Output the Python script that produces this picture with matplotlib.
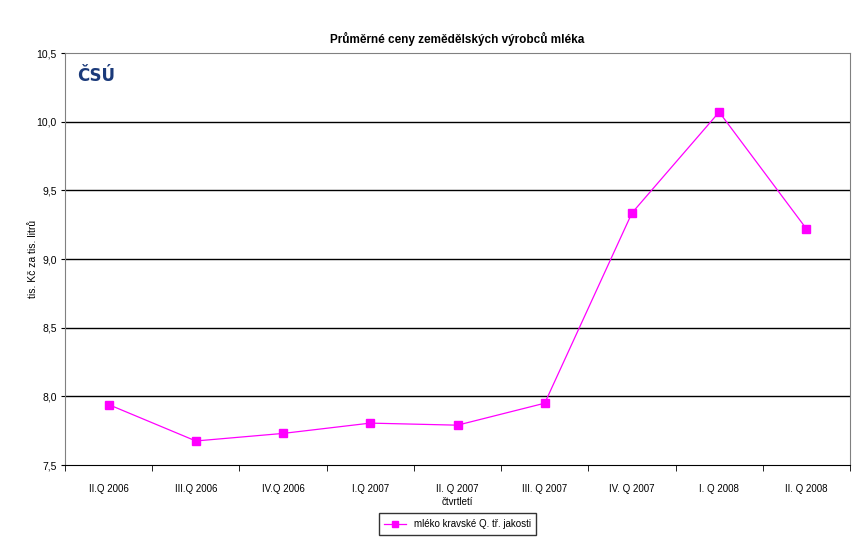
import numpy as np
from matplotlib import pyplot as plt
from matplotlib.ticker import FixedLocator, FuncFormatter

plt.rcParams['font.family'] = ['Liberation Sans', 'DejaVu Sans']

quarters = ['II.Q 2006', 'III.Q 2006', 'IV.Q 2006', 'I.Q 2007', 'II. Q 2007',
            'III. Q 2007', 'IV. Q 2007', 'I. Q 2008', 'II. Q 2008']
prices = [7.94, 7.675, 7.73, 7.805, 7.79, 7.95, 9.335, 10.07, 9.22]
series_name = 'mléko kravské Q. tř. jakosti'

fig = plt.figure(figsize=(8.6, 5.5), dpi=100)
ax = fig.add_axes([65/860, 1 - 465/550, 785/860, 412/550])

x = np.arange(len(quarters))
ax.plot(x, prices, color='#ff00ff', lw=0.9, marker='s', ms=6,
        markeredgecolor='#ff00ff', label=series_name, zorder=3)

ax.set_xlim(-0.5, len(quarters) - 0.5)
ax.set_ylim(7.5, 10.5)
ax.set_yticks(np.arange(7.5, 10.51, 0.5))
ax.yaxis.set_major_formatter(FuncFormatter(lambda v, p: f'{v:.1f}'.replace('.', ',')))
for v in np.arange(8.0, 10.01, 0.5):
    ax.axhline(v, color='black', lw=1, zorder=1)

ax.set_xticks(x)
ax.set_xticklabels(quarters)
ax.xaxis.set_minor_locator(FixedLocator(np.arange(-0.5, len(quarters), 1)))
ax.tick_params(axis='x', which='major', length=0, pad=14, labelsize=7)
ax.tick_params(axis='x', which='minor', length=4, direction='out', color='black')
ax.tick_params(axis='y', length=3, direction='out', labelsize=7.5, color='black', pad=3)

for side in ['left', 'right', 'top']:
    ax.spines[side].set_color('#808080')
ax.spines['bottom'].set_color('black')

ax.set_xlabel('čtvrtletí', fontsize=7, labelpad=2)
ax.set_ylabel('tis. Kč za tis. litrů', fontsize=7.5, labelpad=-1)
ax.set_title('Průměrné ceny zemědělských výrobců mléka', fontsize=8.5,
             fontweight='bold', pad=7)

ax.text(0.015, 0.965, 'ČSÚ', transform=ax.transAxes, fontsize=12,
        fontweight='heavy', color='#1b3a7a', va='top', ha='left',
        family='DejaVu Sans')

leg = ax.legend(loc='upper center', bbox_to_anchor=(0.5, -0.105), fontsize=7,
                frameon=True, fancybox=False, edgecolor='black',
                handlelength=2.2, borderpad=0.6, markerscale=0.8)
leg.get_frame().set_linewidth(1)

fig.savefig('out.png', dpi=100, facecolor='white')
